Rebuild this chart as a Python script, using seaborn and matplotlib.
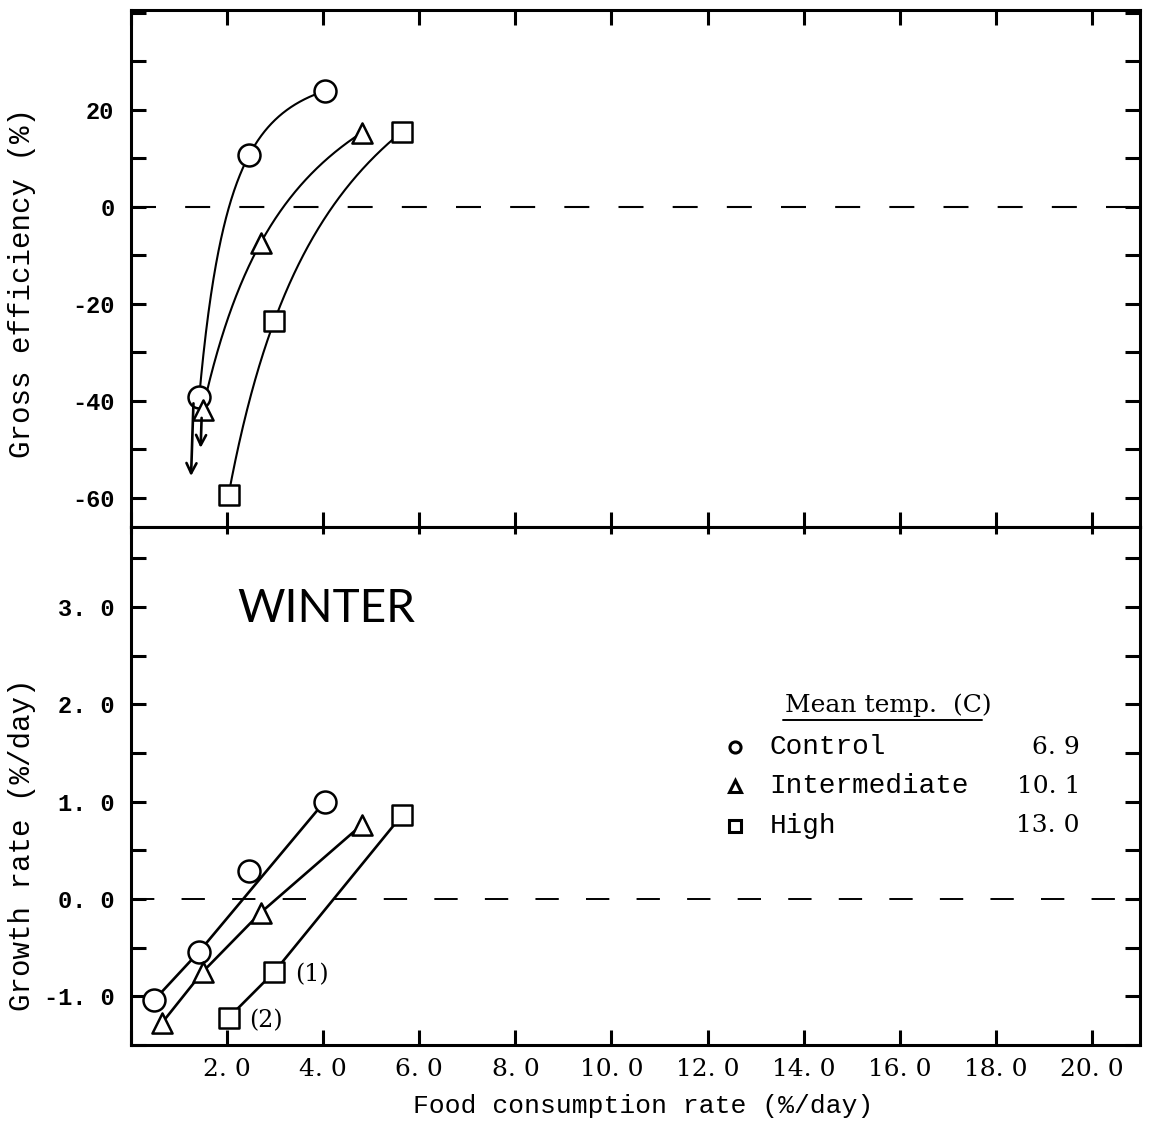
import numpy as np
import pandas as pd
import matplotlib
matplotlib.use("Agg")
import matplotlib.pyplot as plt
import seaborn as sns
from matplotlib.ticker import MultipleLocator, FuncFormatter

# Winter feeding experiment: three temperature treatments
groups = ["Control", "Intermediate", "High"]
mean_temp = [6.9, 10.1, 13.0]
markers = ["o", "^", "s"]
marker_area = [250, 210, 210]

# food consumption rate (%/day)
control_consumption = [0.48, 1.42, 2.46, 4.03]
inter_consumption = [0.65, 1.49, 2.70, 4.80]
high_consumption = [2.03, 2.98, 5.64]

# growth rate (%/day)
control_growth = [-1.04, -0.54, 0.29, 1.00]
inter_growth = [-1.27, -0.75, -0.14, 0.76]
high_growth = [-1.22, -0.75, 0.86]

# gross efficiency (%); NaN = below the plotted range
control_efficiency = [np.nan, -39.2, 10.7, 23.9]
inter_efficiency = [np.nan, -41.9, -7.4, 15.3]
high_efficiency = [-59.4, -23.6, 15.5]

# points joined by the growth line of each treatment
control_line_idx = [0, 1, 3]
inter_line_idx = [0, 1, 2, 3]
high_line_idx = [0, 1, 2]

# off-scale efficiency arrows: (x start, y start, x tip, y tip)
arrow_control = (1.30, -40.5, 1.25, -55.5)
arrow_inter = (1.47, -43.5, 1.45, -49.7)

# tank labels next to the high-temperature points
tank_labels = {0: "(2)", 1: "(1)"}

consumption = [control_consumption, inter_consumption, high_consumption]
growth = [control_growth, inter_growth, high_growth]
efficiency = [control_efficiency, inter_efficiency, high_efficiency]
line_idx = [control_line_idx, inter_line_idx, high_line_idx]

rows = []
for g, c, gr, ef in zip(groups, consumption, growth, efficiency):
    for i, (ci, gi, ei) in enumerate(zip(c, gr, ef)):
        rows.append({"group": g, "idx": i, "consumption": ci,
                     "growth": gi, "efficiency": ei})
df = pd.DataFrame(rows)

sns.set_theme(style="ticks")
plt.rcParams["font.family"] = ["DejaVu Serif", "DejaVu Sans"]
plt.rcParams.update({
    "axes.linewidth": 2.2,
    "axes.edgecolor": "black",
    "text.color": "black",
    "axes.labelcolor": "black",
    "xtick.color": "black",
    "ytick.color": "black",
})

MONO = ["Liberation Mono", "DejaVu Sans Mono"]
black = "black"

fig = plt.figure(figsize=(11.52, 11.22), dpi=100)
left, width = 0.1137, 0.8759
ax_top = fig.add_axes([left, 0.5303, width, 0.4608])
ax_bot = fig.add_axes([left, 0.0686, width, 0.4617], sharex=ax_top)

# ---- upper panel: gross efficiency ----
for g, m, s in zip(groups, markers, marker_area):
    sub = df[(df.group == g) & df.efficiency.notna()]
    u = 1.0 / sub.consumption.values
    coef = np.polyfit(u, sub.efficiency.values, 2)
    cs = np.linspace(sub.consumption.min(), sub.consumption.max(), 300)
    curve = pd.DataFrame({"consumption": cs, "efficiency": np.polyval(coef, 1.0 / cs)})
    sns.lineplot(data=curve, x="consumption", y="efficiency", ax=ax_top,
                 color=black, linewidth=1.5, sort=False, estimator=None, zorder=2)
    sns.scatterplot(data=sub, x="consumption", y="efficiency", ax=ax_top,
                    marker=m, s=s, facecolor="white", edgecolor=black,
                    linewidth=1.8, zorder=3)

for x0, y0, x1, y1 in (arrow_control, arrow_inter):
    ax_top.annotate("", xy=(x1, y1), xytext=(x0, y0),
                    arrowprops=dict(arrowstyle="->", color=black, lw=1.9,
                                    mutation_scale=18, shrinkA=0, shrinkB=0))

ax_top.axhline(0, color=black, linewidth=1.5, linestyle=(0, (12, 14)), zorder=1)
ax_top.set_ylim(-66, 40.6)
ax_top.yaxis.set_major_locator(MultipleLocator(10))
ax_top.yaxis.set_major_formatter(FuncFormatter(
    lambda v, p: f"{int(round(v))}"
    if abs(round(v)) % 20 == 0 and -60 <= v <= 20 else ""))
ax_top.set_ylabel("Gross efficiency (%)", fontsize=21, family=MONO)
ax_top.yaxis.set_label_coords(-0.094, 0.472)
ax_top.set_xlabel("")
ax_top.tick_params(axis="x", which="both", labelbottom=False)

# ---- lower panel: growth rate ----
for g, m, s, idx in zip(groups, markers, marker_area, line_idx):
    sub = df[df.group == g]
    path = sub[sub.idx.isin(idx)]
    sns.lineplot(data=path, x="consumption", y="growth", ax=ax_bot,
                 color=black, linewidth=1.9, sort=False, estimator=None, zorder=2)
    sns.scatterplot(data=sub, x="consumption", y="growth", ax=ax_bot,
                    marker=m, s=s, facecolor="white", edgecolor=black,
                    linewidth=1.8, zorder=3)

high = df[df.group == "High"]
for i, txt in tank_labels.items():
    r = high[high.idx == i].iloc[0]
    ax_bot.annotate(txt, xy=(r.consumption, r.growth), xytext=(15, -2),
                    textcoords="offset points", fontsize=17,
                    ha="left", va="center")

ax_bot.axhline(0, color=black, linewidth=1.4, linestyle=(0, (12, 14)), zorder=1)
ax_bot.set_ylim(-1.5, 3.82)
ax_bot.set_xlim(0, 21)
ax_bot.yaxis.set_major_locator(MultipleLocator(0.5))
ax_bot.yaxis.set_major_formatter(FuncFormatter(
    lambda v, p: f"{v:.1f}".replace(".", ". ")
    if abs(v - round(v)) < 1e-6 and v <= 3.01 else ""))
ax_bot.xaxis.set_major_locator(MultipleLocator(2))
ax_bot.xaxis.set_major_formatter(FuncFormatter(
    lambda v, p: f"{v:.1f}".replace(".", ". ") if v > 0 else ""))
ax_bot.set_ylabel("Growth rate (%/day)", fontsize=21, family=MONO)
ax_bot.yaxis.set_label_coords(-0.094, 0.386)
ax_bot.set_xlabel("Food consumption rate (%/day)", fontsize=19, family=MONO)
ax_bot.xaxis.set_label_coords(0.508, -0.095)

for ax in (ax_top, ax_bot):
    ax.tick_params(axis="both", which="both", direction="in", length=11,
                   width=2.2, top=True, right=True)
    ax.tick_params(axis="y", pad=12, labelsize=17)
    for lab in ax.get_yticklabels():
        lab.set_family(MONO)
        lab.set_fontweight("bold")
ax_bot.tick_params(axis="x", which="both", pad=9, labelsize=18)
for t in ax_bot.xaxis.get_major_ticks():
    t.tick2line.set_markersize(5)

ax_bot.text(0.105, 0.842, "WINTER", transform=ax_bot.transAxes,
            fontsize=33, family=["Lato", "DejaVu Sans"], weight="normal",
            ha="left", va="center")

# key for the temperature treatments
ax_bot.text(0.648, 0.656, "Mean temp.  (C)", transform=ax_bot.transAxes,
            fontsize=18, ha="left", va="center")
ax_bot.plot([0.646, 0.843], [0.628, 0.628], transform=ax_bot.transAxes,
            color=black, linewidth=1.4, clip_on=False)
row_y = [0.575, 0.500, 0.423]
for g, m, t, y in zip(groups, markers, mean_temp, row_y):
    ax_bot.plot([0.599], [y], marker=m, markersize=8, markerfacecolor="white",
                markeredgecolor=black, markeredgewidth=2.2, linestyle="none",
                transform=ax_bot.transAxes, clip_on=False)
    ax_bot.text(0.633, y, g, transform=ax_bot.transAxes, fontsize=20,
                family=MONO, ha="left", va="center")
    ax_bot.text(0.9405, y, f"{t:.1f}".replace(".", ". "),
                transform=ax_bot.transAxes, fontsize=18, ha="right", va="center")

fig.savefig("out.png", dpi=100)
